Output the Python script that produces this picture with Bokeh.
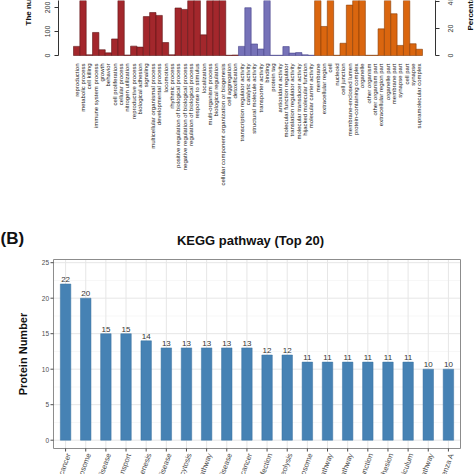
import math
from bokeh.plotting import figure
from bokeh.layouts import column
from bokeh.models import Range1d
from bokeh.core.properties import value
from bokeh.embed import file_html
from bokeh.resources import INLINE

# ---------------- data: GO classification (panel A, cropped) ----------------
bp_terms = ["reproduction", "metabolic process", "cell killing", "immune system process",
            "growth", "behavior", "cell proliferation", "cellular process",
            "nitrogen utilization", "reproductive process", "biological adhesion", "signaling",
            "multicellular organismal process", "developmental process", "locomotion",
            "rhythmic process", "positive regulation of biological process",
            "negative regulation of biological process", "regulation of biological process",
            "response to stimulus", "localization", "multi-organism process",
            "biological regulation", "cellular component organization or biogenesis",
            "cell aggregation", "detoxification"]
bp_counts = [38, 330, 3, 96, 24, 11, 69, 470, 2, 39, 35, 162, 179, 167, 54, 3,
             198, 192, 300, 250, 86, 230, 320, 240, 1, 2]

mf_terms = ["transcription regulator activity", "catalytic activity",
            "structural molecule activity", "transporter activity", "binding", "protein tag",
            "antioxidant activity", "molecular function regulator",
            "translation regulator activity", "molecular transducer activity",
            "hijacked molecular function", "molecular carrier activity"]
mf_counts = [38, 199, 48, 27, 380, 1, 1, 37, 10, 12, 3, 1]

cc_terms = ["membrane", "extracellular region", "cell", "nucleoid", "cell junction",
            "membrane-enclosed lumen", "protein-containing complex", "organelle",
            "other organism", "other organism part", "extracellular region part",
            "organelle part", "membrane part", "synapse part", "cell part", "synapse",
            "supramolecular complex"]
cc_counts = [260, 121, 480, 1, 51, 210, 230, 430, 1, 1, 111, 380, 174, 42, 480, 49, 26]

go_y_ticks = [0, 100, 200]
pct_ticks = [0, 20, 40]

# ---------------- data: KEGG pathway (panel B) ----------------
kegg_terms = ["Pathways in cancer", "Ribosome", "Alzheimer disease", "RNA transport",
              "Chemical carcinogenesis", "Huntington disease", "Endocytosis",
              "MAPK signaling pathway", "Parkinson disease", "Proteoglycans in cancer",
              "Salmonella infection", "Ubiquitin mediated proteolysis", "Spliceosome",
              "Rap1 signaling pathway", "Oxytocin signaling pathway", "Tight junction",
              "Focal adhesion", "Protein processing in endoplasmic reticulum",
              "cGMP-PKG signaling pathway", "Influenza A"]
kegg_counts = [22, 20, 15, 15, 14, 13, 13, 13, 13, 13, 12, 12, 11, 11, 11, 11, 11, 11, 10, 10]
kegg_y_ticks = [0, 5, 10, 15, 20, 25]
kegg_y_minor = [2.5, 7.5, 12.5, 17.5, 22.5]

FONT = value("Liberation Sans")
W = 474

# =============== panel A (frame = whole canvas, axes drawn as glyphs) ===============
terms = bp_terms + mf_terms + cc_terms
counts = bp_counts + mf_counts + cc_counts
fills = ["#A3272C"] * len(bp_terms) + ["#7672B8"] * len(mf_terms) + ["#DA660F"] * len(cc_terms)
lines = ["#5E1416"] * len(bp_terms) + ["#45418A"] * len(mf_terms) + ["#8A3D05"] * len(cc_terms)
idx = list(range(len(terms)))

PXA = 6.345          # px per bar
PYA = 0.24           # px per protein
PPA = 1.35           # px per percent
H1 = 218
BASE = 55            # baseline pixel row
p1 = figure(width=W, height=H1, output_backend="svg", toolbar_location=None,
            x_range=Range1d(-0.5 - 73 / PXA, -0.5 + (W - 73) / PXA),
            y_range=Range1d(-(H1 - BASE) / PYA, BASE / PYA),
            min_border=0, x_axis_type=None, y_axis_type=None)
p1.extra_y_ranges = {"pct": Range1d(-(H1 - BASE) / PPA, BASE / PPA)}
p1.title.visible = False
p1.outline_line_color = None
p1.grid.visible = False

p1.vbar(x=idx, top=counts, bottom=0, width=1.0, fill_color=fills, line_color=lines, line_width=0.6)

# left axis
lax = -0.5 - 15 / PXA
p1.segment(x0=[lax], y0=[0], x1=[lax], y1=[BASE / PYA + 50], line_color="#333333", line_width=1)
p1.segment(x0=[lax] * len(go_y_ticks), y0=go_y_ticks, x1=[lax - 4 / PXA] * len(go_y_ticks),
           y1=go_y_ticks, line_color="#333333", line_width=1)
p1.text(x=[lax] * len(go_y_ticks), y=go_y_ticks, text=[str(t) for t in go_y_ticks],
        x_offset=-11, angle=math.pi / 2, text_align="center", text_baseline="middle",
        text_font=FONT, text_font_size="7px", text_color="#333333")
p1.text(x=[-0.5 - 45 / PXA], y=[30 / PYA], text=["The number of proteins"], angle=math.pi / 2,
        text_align="left", text_baseline="middle", text_font=FONT, text_font_size="8px",
        text_font_style="bold", text_color="#111111")

# right axis (percentage)
rax = -0.5 + 362 / PXA
p1.segment(x0=[rax], y0=[0], x1=[rax], y1=[60], line_color="#333333", line_width=1,
           y_range_name="pct")
p1.segment(x0=[rax] * len(pct_ticks), y0=pct_ticks, x1=[rax + 4 / PXA] * len(pct_ticks),
           y1=pct_ticks, line_color="#333333", line_width=1, y_range_name="pct")
p1.text(x=[rax] * len(pct_ticks), y=pct_ticks, text=[str(t) for t in pct_ticks],
        x_offset=15, angle=math.pi / 2, text_align="center", text_baseline="middle",
        text_font=FONT, text_font_size="7px", text_color="#333333", y_range_name="pct")
p1.text(x=[-0.5 + 397 / PXA], y=[25 / PPA], text=["Percentage of proteins"],
        angle=math.pi / 2, text_align="left", text_baseline="middle", text_font=FONT,
        text_font_size="8px", text_font_style="bold", text_color="#111111",
        y_range_name="pct")

# category labels
p1.text(x=idx, y=[0] * len(idx), text=terms, y_offset=8, angle=math.pi / 2,
        text_align="right", text_baseline="middle", text_font=FONT, text_font_size="6px",
        text_color="#222222")

# =============== panel B (frame = whole canvas, panel drawn with glyphs) ===============
kx = list(range(1, len(kegg_terms) + 1))
PXB = 20.15
PYB = 7.1
TOP2 = 218                  # pixel row where panel B's canvas starts
ZERO = 439.7                # pixel row of value 0
H2 = W - TOP2
X0, X1 = 0.4, 20.6          # panel x limits
Y0, Y1 = -1.17, 25.45       # panel y limits
p2 = figure(width=W, height=H2, output_backend="svg", toolbar_location=None,
            x_range=Range1d(X0 - 53 / PXB, X1 + (W - 460) / PXB),
            y_range=Range1d(-(W - ZERO) / PYB, (ZERO - TOP2) / PYB),
            min_border=0, x_axis_type=None, y_axis_type=None)
p2.title.visible = False
p2.outline_line_color = None
p2.grid.visible = False

# grid
p2.segment(x0=[X0] * len(kegg_y_minor), y0=kegg_y_minor, x1=[X1] * len(kegg_y_minor),
           y1=kegg_y_minor, line_color="#F2F2F2", line_width=0.6)
p2.segment(x0=[X0] * len(kegg_y_ticks), y0=kegg_y_ticks, x1=[X1] * len(kegg_y_ticks),
           y1=kegg_y_ticks, line_color="#E6E6E6", line_width=1)
p2.segment(x0=kx, y0=[Y0] * len(kx), x1=kx, y1=[Y1] * len(kx), line_color="#E6E6E6",
           line_width=1)

# bars + values
p2.vbar(x=kx, top=kegg_counts, bottom=0, width=0.52, fill_color="#4682B4",
        line_color="#3B72A0", line_width=0.5)
p2.text(x=kx, y=kegg_counts, text=[str(v) for v in kegg_counts], y_offset=-2,
        text_align="center", text_baseline="bottom", text_font_size="8px",
        text_color="#333333", text_font=FONT)

# panel border
p2.quad(left=[X0], right=[X1], bottom=[Y0], top=[Y1], fill_color=None,
        line_color="#8C8C8C", line_width=1)

# y axis ticks + labels
p2.segment(x0=[X0] * len(kegg_y_ticks), y0=kegg_y_ticks,
           x1=[X0 - 3 / PXB] * len(kegg_y_ticks), y1=kegg_y_ticks,
           line_color="#4D4D4D", line_width=1)
p2.text(x=[X0] * len(kegg_y_ticks), y=kegg_y_ticks, text=[str(t) for t in kegg_y_ticks],
        x_offset=-4.5, text_align="right", text_baseline="middle", text_font=FONT,
        text_font_size="6.5px", text_color="#4D4D4D")
p2.text(x=[X0 - 30 / PXB], y=[(Y0 + Y1) / 2], text=["Protein Number"], angle=math.pi / 2,
        text_align="center", text_baseline="middle", text_font=FONT, text_font_size="11px",
        text_font_style="bold", text_color="#111111")

# x axis ticks + labels
p2.segment(x0=kx, y0=[Y0] * len(kx), x1=kx, y1=[Y0 - 3 / PYB] * len(kx),
           line_color="#4D4D4D", line_width=1)
p2.text(x=kx, y=[Y0] * len(kx), text=kegg_terms, x_offset=3, y_offset=5,
        angle=math.radians(70), text_align="right", text_baseline="middle", text_font=FONT,
        text_font_size="7.5px", text_color="#4D4D4D")

# title and panel tag
p2.text(x=[X0 + (250 - 53) / PXB], y=[(ZERO - 240) / PYB], text=["KEGG pathway (Top 20)"],
        text_align="center", text_baseline="alphabetic", text_font=FONT,
        text_font_size="13px", text_font_style="bold", text_color="#111111")
p2.text(x=[X0 - 53 / PXB], y=[(ZERO - 238) / PYB], text=["(B)"], text_align="left",
        text_baseline="alphabetic", text_font=FONT, text_font_size="17px",
        text_font_style="bold", text_color="#111111")

layout = column(p1, p2, spacing=0)
open("out.html", "w").write(file_html(layout, INLINE))
